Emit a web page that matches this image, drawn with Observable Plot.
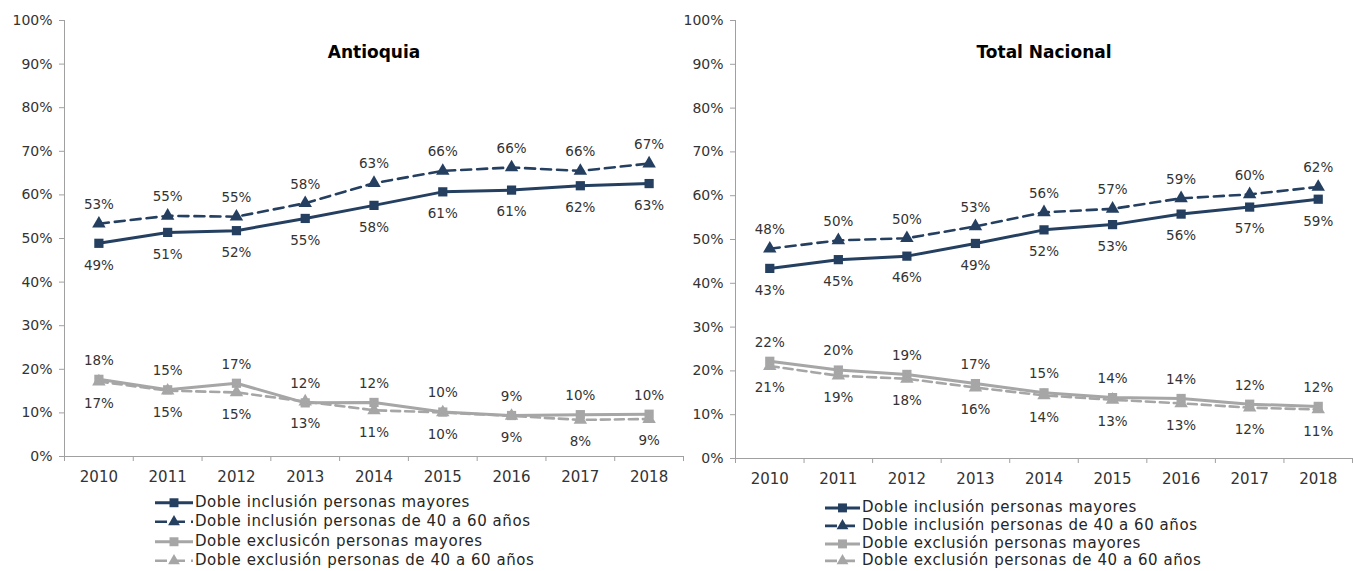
<!DOCTYPE html>
<html>
<head>
<meta charset="utf-8">
<script src="https://cdn.jsdelivr.net/npm/d3@7"></script>
<script src="https://cdn.jsdelivr.net/npm/@observablehq/plot@0.6"></script>
<style>
  html, body { margin: 0; padding: 0; background: #fff; }
  #wrap { position: relative; width: 1353px; height: 571px; overflow: hidden; background: #fff; font-family: "DejaVu Sans", sans-serif; }
  .panel { position: absolute; top: 0; }
  .legend { position: absolute; font-size: 15px; letter-spacing: 0.55px; color: #262626; white-space: nowrap; }
  .legend .item { display: flex; align-items: center; }
  .legend svg { flex: none; overflow: visible; }
</style>
</head>
<body>
<div id="wrap"></div>
<script>
// ---- data ----
const years = [2010, 2011, 2012, 2013, 2014, 2015, 2016, 2017, 2018];
const yTicks = [0, 10, 20, 30, 40, 50, 60, 70, 80, 90, 100];

const antInclMayores = [48.9, 51.4, 51.8, 54.6, 57.6, 60.7, 61.1, 62.1, 62.6];
const antIncl4060    = [53.4, 55.2, 55.0, 58.1, 62.7, 65.5, 66.3, 65.5, 67.2];
const antExclMayores = [17.7, 15.3, 16.8, 12.3, 12.4, 10.2, 9.4, 9.6, 9.7];
const antExcl4060    = [17.2, 15.1, 14.7, 12.6, 10.6, 10.1, 9.3, 8.4, 8.6];

const nacInclMayores = [43.4, 45.4, 46.2, 49.1, 52.2, 53.4, 55.8, 57.4, 59.2];
const nacIncl4060    = [47.9, 49.8, 50.3, 53.0, 56.2, 57.0, 59.4, 60.3, 62.0];
const nacExclMayores = [22.2, 20.2, 19.2, 17.1, 15.0, 13.9, 13.7, 12.4, 11.9];
const nacExcl4060    = [21.1, 18.9, 18.2, 16.2, 14.4, 13.4, 12.6, 11.6, 11.2];

const antLegend = [
  "Doble inclusión personas mayores",
  "Doble inclusión personas de 40 a 60 años",
  "Doble exclusicón personas mayores",
  "Doble exclusión personas de 40 a 60 años"
];
const nacLegend = [
  "Doble inclusión personas mayores",
  "Doble inclusión personas de 40 a 60 años",
  "Doble exclusión personas mayores",
  "Doble exclusión personas de 40 a 60 años"
];

// ---- styles ----
const NAVY = "#243F60";
const GRAY = "#A6A6A6";
const AXIS = "#A0A0A0";
const TEXT = "#333333";

const styles = [
  {symbol: "square",   color: NAVY, dash: null,   above: false, width: 3},
  {symbol: "triangle", color: NAVY, dash: "10,6", above: true,  width: 2.6},
  {symbol: "square",   color: GRAY, dash: null,   above: true,  width: 3},
  {symbol: "triangle", color: GRAY, dash: "9,5",  above: false, width: 2.6}
];
const drawOrder = [1, 0, 3, 2];

function panel({title, seriesValues, width, marginLeft, marginBottom}) {
  const bounds = years.map(y => y - 0.5).concat([years[years.length - 1] + 0.5]);
  const series = seriesValues.map((vals, k) =>
    years.map((year, i) => ({year, value: vals[i], k})));
  const lineMarks = drawOrder.flatMap(k => {
    const s = styles[k];
    return [
      Plot.line(series[k], {x: "year", y: "value", stroke: s.color, strokeWidth: s.width, strokeDasharray: s.dash}),
      Plot.dot(series[k], {x: "year", y: "value", symbol: s.symbol, fill: s.color, stroke: "none", r: s.symbol === "square" ? 5.2 : 5})
    ];
  });
  const labelMarks = drawOrder.map(k => {
    const s = styles[k];
    return Plot.text(series[k], {
      x: "year", y: "value",
      text: d => Math.round(d.value) + "%",
      dy: s.above ? -19 : 22,
      fill: TEXT, fontSize: 13.5
    });
  });
  return Plot.plot({
    width, height: 490,
    marginLeft, marginRight: 1, marginTop: 20, marginBottom,
    style: {fontFamily: "DejaVu Sans, sans-serif", fontSize: "14px", background: "transparent", overflow: "visible"},
    x: {domain: [bounds[0], bounds[bounds.length - 1]]},
    y: {domain: [0, 100]},
    marks: [
      Plot.axisY(yTicks, {tickFormat: d => d + "%", tickSize: 5, tickPadding: 7, stroke: AXIS, fill: TEXT, fontSize: 14, label: null}),
      Plot.axisX(years, {tickSize: 0, tickPadding: 15, tickFormat: d => String(d), fill: TEXT, fontSize: 15, label: null}),
      Plot.axisX(bounds, {tickSize: 5, tickFormat: () => "", stroke: AXIS, label: null}),
      Plot.ruleY([0], {stroke: AXIS}),
      Plot.ruleX([bounds[0]], {stroke: AXIS}),
      ...lineMarks,
      ...labelMarks,
      Plot.text([title], {frameAnchor: "top", dy: 25, fontWeight: "bold", fontSize: 17, fill: "#000"})
    ]
  });
}

function legend(labels, {left, top, lineHeight, symW, gap}) {
  const div = document.createElement("div");
  div.className = "legend";
  div.style.left = left + "px";
  div.style.top = top + "px";
  div.style.lineHeight = lineHeight + "px";
  labels.forEach((lab, k) => {
    const s = styles[k];
    const item = document.createElement("div");
    item.className = "item";
    item.style.height = lineHeight + "px";
    const svg = d3.create("svg").attr("width", symW).attr("height", lineHeight).style("margin-right", gap + "px");
    const cy = lineHeight / 2;
    svg.append("line").attr("x1", 0).attr("x2", symW).attr("y1", cy).attr("y2", cy)
      .attr("stroke", s.color).attr("stroke-width", s.width)
      .attr("stroke-dasharray", s.dash ? "12,6" : null);
    const sym = s.symbol === "square" ? d3.symbolSquare : d3.symbolTriangle;
    svg.append("path").attr("d", d3.symbol(sym, s.symbol === "square" ? 80 : 60)())
      .attr("transform", `translate(${symW / 2},${cy})`).attr("fill", s.color);
    item.appendChild(svg.node());
    const span = document.createElement("span");
    span.textContent = lab;
    item.appendChild(span);
    div.appendChild(item);
  });
  return div;
}

const wrap = document.getElementById("wrap");

const left = panel({title: "Antioquia", seriesValues: [antInclMayores, antIncl4060, antExclMayores, antExcl4060], width: 684, marginLeft: 64, marginBottom: 34});
left.classList.add("panel");
left.style.left = "0px";
wrap.appendChild(left);

const right = panel({title: "Total Nacional", seriesValues: [nacInclMayores, nacIncl4060, nacExclMayores, nacExcl4060], width: 669, marginLeft: 51, marginBottom: 32});
right.classList.add("panel");
right.style.left = "684px";
wrap.appendChild(right);

wrap.appendChild(legend(antLegend, {left: 155, top: 492.5, lineHeight: 19.5, symW: 38, gap: 2}));
wrap.appendChild(legend(nacLegend, {left: 825, top: 499, lineHeight: 17.8, symW: 35, gap: 2}));
</script>
</body>
</html>
